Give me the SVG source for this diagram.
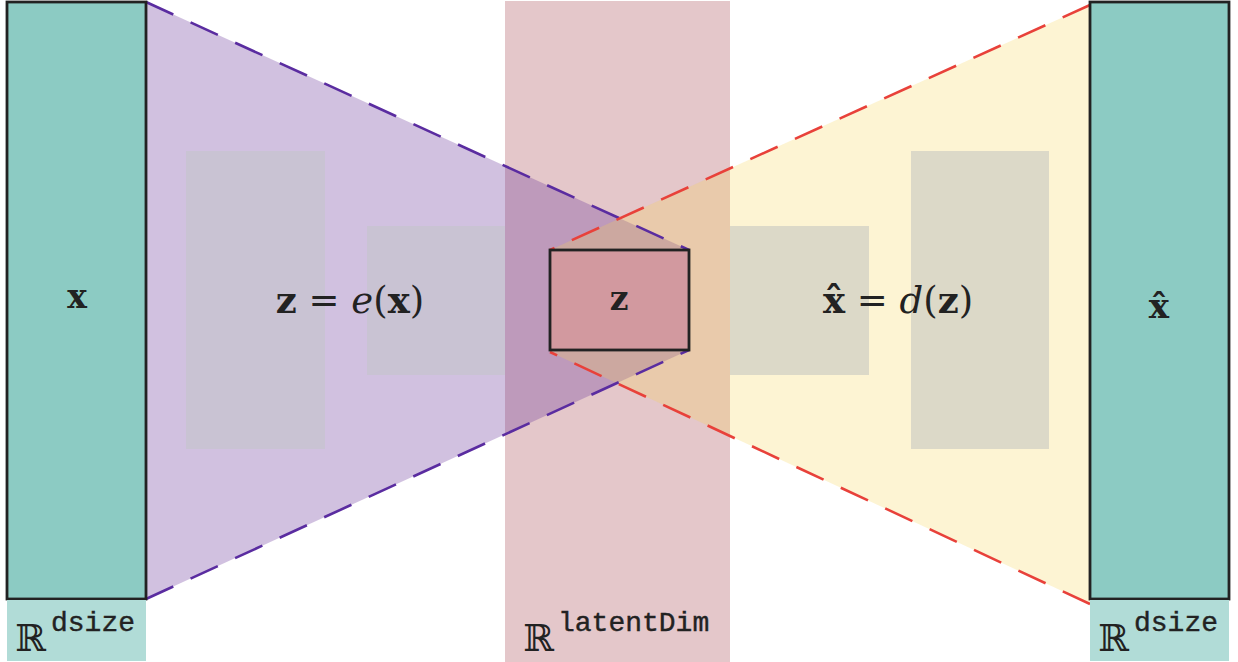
<svg xmlns="http://www.w3.org/2000/svg" width="1238" height="662" viewBox="0 0 1238 662">
<style>
.box{fill:#8ccbc3;stroke:#222;stroke-width:2.8}
.lab{fill:#b1dcd7}
.math{font-family:"DejaVu Serif","Liberation Serif",serif;fill:#222}
.b{font-weight:bold}
.it{font-style:italic;font-weight:normal}
.bb{font-family:"DejaVu Serif","DejaVu Sans",serif;fill:#222;font-size:37px}
.mono{font-family:"Liberation Mono","DejaVu Sans Mono",monospace;fill:#222;font-size:28px;stroke:#222;stroke-width:0.4}
.pl{stroke:#5a2ca0;stroke-width:2.6;stroke-dasharray:30 19;fill:none}
.rl{stroke:#e8413a;stroke-width:2.6;stroke-dasharray:30 19;fill:none}
</style>
<rect width="1238" height="662" fill="#fff"/>
<g id="latent-band">
<rect x="505" y="1" width="225" height="661" fill="#e4c7ca"/>
</g>
<g id="encoder">
<polygon points="146,2 689,250 689,350 146,599" fill="#663399" fill-opacity="0.3"/>
<rect x="186" y="151" width="139" height="298" fill="#c9c3d3"/>
<rect x="367" y="226" width="138" height="149" fill="#c9c3d3"/>
<text x="350" y="313" text-anchor="middle" class="math" font-size="37"><tspan class="b">z</tspan> = <tspan class="it">e</tspan>(<tspan class="b">x</tspan>)</text>
</g>
<g id="decoder">
<polygon points="1090,5 550,250 550,352 1090,604" fill="#f7d34f" fill-opacity="0.25"/>
<rect x="730" y="226" width="139" height="149" fill="#dcd9c8"/>
<rect x="911" y="151" width="138" height="298" fill="#dcd9c8"/>
<text x="898" y="313" text-anchor="middle" class="math" font-size="37"><tspan class="b">x̂</tspan> = <tspan class="it">d</tspan>(<tspan class="b">z</tspan>)</text>
</g>
<g id="connectors">
<line x1="146" y1="2" x2="689" y2="250" class="pl"/>
<line x1="146" y1="599" x2="689" y2="350" class="pl"/>
<line x1="1090" y1="5" x2="550" y2="250" class="rl"/>
<line x1="1090" y1="604" x2="550" y2="352" class="rl"/>
</g>
<g id="z-node">
<rect x="550" y="250" width="139" height="100" fill="#d2999f" stroke="#222" stroke-width="2.8"/>
<text x="619" y="310" text-anchor="middle" class="math b" font-size="33">z</text>
</g>
<g id="x-node">
<rect x="7" y="2" width="139" height="597" class="box"/>
<rect x="7" y="600" width="139" height="61" class="lab"/>
<text x="77" y="308" text-anchor="middle" class="math b" font-size="33">x</text>
<text x="15" y="651" class="bb">ℝ</text>
<text x="51" y="631" class="mono">dsize</text>
</g>
<g id="latent-label">
<text x="523" y="651" class="bb">ℝ</text>
<text x="558" y="631" class="mono">latentDim</text>
</g>
<g id="xhat-node">
<rect x="1090" y="2" width="139" height="597" class="box"/>
<rect x="1090" y="600" width="139" height="61" class="lab"/>
<text x="1159" y="318" text-anchor="middle" class="math b" font-size="34">x̂</text>
<text x="1098" y="651" class="bb">ℝ</text>
<text x="1134" y="631" class="mono">dsize</text>
</g>
</svg>
